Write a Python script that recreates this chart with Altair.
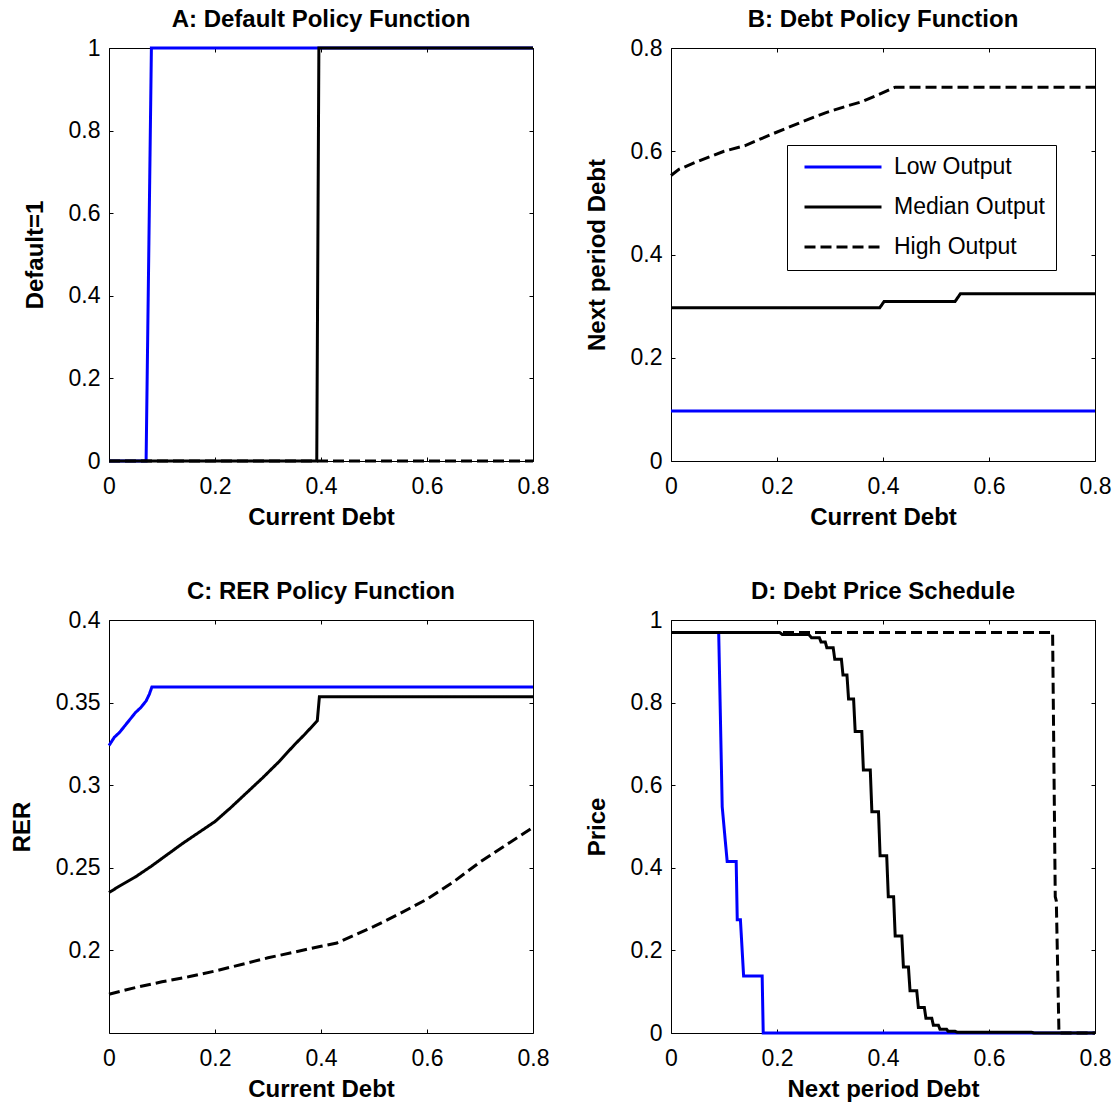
import altair as alt
import pandas as pd

FONT = "Liberation Sans"
SERIES = ["Low Output", "Median Output", "High Output"]
COLORS = ["#0000ff", "#000000", "#000000"]
DASHES = [[1, 0], [1, 0], [11, 5]]
X_TICKS = [0, 0.2, 0.4, 0.6, 0.8]

# ---- Panel A: Default policy function ----
A_low_x = [0.0, 0.070, 0.080, 0.8]
A_low_y = [0, 0, 1, 1]
A_med_x = [0.0, 0.392, 0.396, 0.8]
A_med_y = [0, 0, 1, 1]
A_high_x = [0.0, 0.8]
A_high_y = [0, 0]

# ---- Panel B: Debt policy function ----
B_low_x = [0.0, 0.8]
B_low_y = [0.097, 0.097]
B_med_x = [0.0, 0.394, 0.402, 0.536, 0.546, 0.8]
B_med_y = [0.297, 0.297, 0.309, 0.309, 0.324, 0.324]
B_high_x = [0.0, 0.015, 0.045, 0.07, 0.10, 0.14, 0.19, 0.25, 0.29, 0.33, 0.36, 0.39, 0.423, 0.8]
B_high_y = [0.553, 0.565, 0.578, 0.588, 0.600, 0.611, 0.633, 0.658, 0.674, 0.687, 0.696, 0.709, 0.724, 0.724]

# ---- Panel C: RER policy function ----
C_low_x = [0.0, 0.01, 0.02, 0.03, 0.04, 0.05, 0.06, 0.07, 0.076, 0.081, 0.8]
C_low_y = [0.324, 0.329, 0.332, 0.336, 0.340, 0.344, 0.347, 0.351, 0.355, 0.3595, 0.3595]
C_med_x = [0.0, 0.02, 0.05, 0.08, 0.11, 0.14, 0.17, 0.20, 0.23, 0.26, 0.29, 0.32, 0.35, 0.37, 0.393, 0.397, 0.8]
C_med_y = [0.235, 0.239, 0.2445, 0.251, 0.258, 0.265, 0.2715, 0.278, 0.2865, 0.2955, 0.3045, 0.314, 0.3245,
           0.331, 0.339, 0.3535, 0.3535]
C_high_x = [0.0, 0.05, 0.10, 0.15, 0.20, 0.25, 0.30, 0.35, 0.40, 0.43, 0.50, 0.55, 0.60, 0.65, 0.70, 0.75, 0.8]
C_high_y = [0.1735, 0.1775, 0.181, 0.184, 0.1875, 0.1915, 0.1955, 0.199, 0.2025, 0.2045, 0.2145, 0.2225,
            0.231, 0.2415, 0.2535, 0.264, 0.2745]

# ---- Panel D: Debt price schedule ----
D_low_x = [0.0, 0.090, 0.0966, 0.106, 0.123, 0.125, 0.131, 0.137, 0.172, 0.174, 0.8]
D_low_y = [0.97, 0.97, 0.548, 0.415, 0.415, 0.274, 0.274, 0.138, 0.138, 0.0, 0.0]
D_med_x = [0.0, 0.205, 0.21, 0.26, 0.265, 0.28, 0.283, 0.291, 0.294, 0.306, 0.309, 0.3215, 0.3245, 0.332,
           0.335, 0.3445, 0.3475, 0.360, 0.363, 0.376, 0.379, 0.3915, 0.3945, 0.407, 0.410, 0.420, 0.423,
           0.4355, 0.4385, 0.448, 0.451, 0.4637, 0.4667, 0.478, 0.481, 0.492, 0.495, 0.5045, 0.5075, 0.520,
           0.523, 0.536, 0.54, 0.68, 0.685, 0.8]
D_med_y = [0.97, 0.97, 0.965, 0.965, 0.957, 0.957, 0.947, 0.947, 0.933, 0.933, 0.905, 0.905, 0.867, 0.867,
           0.809, 0.809, 0.730, 0.730, 0.637, 0.637, 0.536, 0.536, 0.429, 0.429, 0.330, 0.330, 0.235,
           0.235, 0.160, 0.160, 0.102, 0.102, 0.062, 0.062, 0.036, 0.036, 0.019, 0.019, 0.009, 0.009,
           0.004, 0.004, 0.002, 0.002, 0.0, 0.0]
D_high_x = [0.0, 0.720, 0.725, 0.727, 0.732, 0.8]
D_high_y = [0.97, 0.97, 0.33, 0.32, 0.0, 0.0]


def frame(xs_list, ys_list):
    rows = []
    for name, xs, ys in zip(SERIES, xs_list, ys_list):
        for i, (xv, yv) in enumerate(zip(xs, ys)):
            rows.append({"x": xv, "y": yv, "s": name, "i": i})
    return pd.DataFrame(rows)


W, H = 424, 413


def panel(df, title, xtitle, ytitle, ydomain, yticks, legend=None):
    xs = alt.Scale(domain=[0, 0.8], nice=False, zero=False)
    ys = alt.Scale(domain=ydomain, nice=False, zero=False)
    common = dict(offset=-4, tickSize=4, ticks=True, domain=False, grid=False, tickColor="black",
                  tickWidth=1, labelFlush=False, labelOverlap=False, format=".2~f", minExtent=0,
                  labelFont=FONT, labelFontSize=23, labelColor="black",
                  titleFont=FONT, titleFontSize=24, titleFontWeight="bold", titleColor="black")
    xaxis = alt.Axis(orient="bottom", values=X_TICKS, title=xtitle, labelPadding=14, titlePadding=7, **common)
    yaxis = alt.Axis(orient="left", values=yticks, title=ytitle, labelPadding=9, titlePadding=21, **common)
    cenc = dict(scale=alt.Scale(domain=SERIES, range=COLORS), sort=SERIES)
    denc = dict(scale=alt.Scale(domain=SERIES, range=DASHES), sort=SERIES)
    if legend is None:
        color = alt.Color("s:N", legend=None, **cenc)
        dash = alt.StrokeDash("s:N", legend=None, **denc)
    else:
        color = alt.Color("s:N", legend=legend, **cenc)
        dash = alt.StrokeDash("s:N", legend=legend, **denc)
    lines = alt.Chart(df).mark_line(strokeWidth=3, strokeCap="butt", strokeJoin="miter").encode(
        x=alt.X("x:Q", scale=xs, axis=xaxis),
        y=alt.Y("y:Q", scale=ys, axis=yaxis),
        color=color,
        strokeDash=dash,
        order="i:Q",
    )
    tick_common = dict(offset=-4, tickSize=4, ticks=True, domain=False, grid=False, labels=False,
                       title=None, tickColor="black", tickWidth=1, minExtent=0)
    frame_ticks = alt.Chart(df).mark_point(opacity=0, size=1).encode(
        x=alt.X("x:Q", scale=xs, axis=alt.Axis(orient="top", values=X_TICKS, **tick_common)),
        y=alt.Y("y:Q", scale=ys, axis=alt.Axis(orient="right", values=yticks, **tick_common)),
    )
    return alt.layer(lines, frame_ticks).resolve_axis(x="independent", y="independent").properties(
        width=W, height=H,
        title=alt.TitleParams(text=title, font=FONT, fontSize=24, fontWeight="bold", color="black",
                              anchor="middle", baseline="alphabetic", offset=-14),
    )


legend_b = alt.Legend(orient="none", legendX=116, legendY=97, title=None, symbolType="stroke",
                      symbolSize=5929, symbolStrokeWidth=3, clipHeight=22, labelFont=FONT,
                      labelFontSize=23, labelColor="black", labelOffset=11, padding=11, symbolOffset=5,
                      rowPadding=17, strokeColor="black", fillColor="white")

pA = panel(frame([A_low_x, A_med_x, A_high_x], [A_low_y, A_med_y, A_high_y]),
           "A: Default Policy Function", "Current Debt", "Default=1", [0, 1], [0, 0.2, 0.4, 0.6, 0.8, 1])
pB = panel(frame([B_low_x, B_med_x, B_high_x], [B_low_y, B_med_y, B_high_y]),
           "B: Debt Policy Function", "Current Debt", "Next period Debt", [0, 0.8], [0, 0.2, 0.4, 0.6, 0.8],
           legend=legend_b)
pC = panel(frame([C_low_x, C_med_x, C_high_x], [C_low_y, C_med_y, C_high_y]),
           "C: RER Policy Function", "Current Debt", "RER", [0.15, 0.4], [0.2, 0.25, 0.3, 0.35, 0.4])
pD = panel(frame([D_low_x, D_med_x, D_high_x], [D_low_y, D_med_y, D_high_y]),
           "D: Debt Price Schedule", "Next period Debt", "Price", [0, 1], [0, 0.2, 0.4, 0.6, 0.8, 1])

chart = alt.concat(
    pA, pB, pC, pD, columns=2, spacing={"row": 159, "column": 138}, bounds="flush"
).resolve_scale(
    color="independent", strokeDash="independent"
).properties(
    padding={"left": 9, "top": 7, "right": 5, "bottom": 5}
).configure_view(stroke="black", strokeWidth=1)

chart.save("out.html", embed_options={"renderer": "svg", "actions": False})
